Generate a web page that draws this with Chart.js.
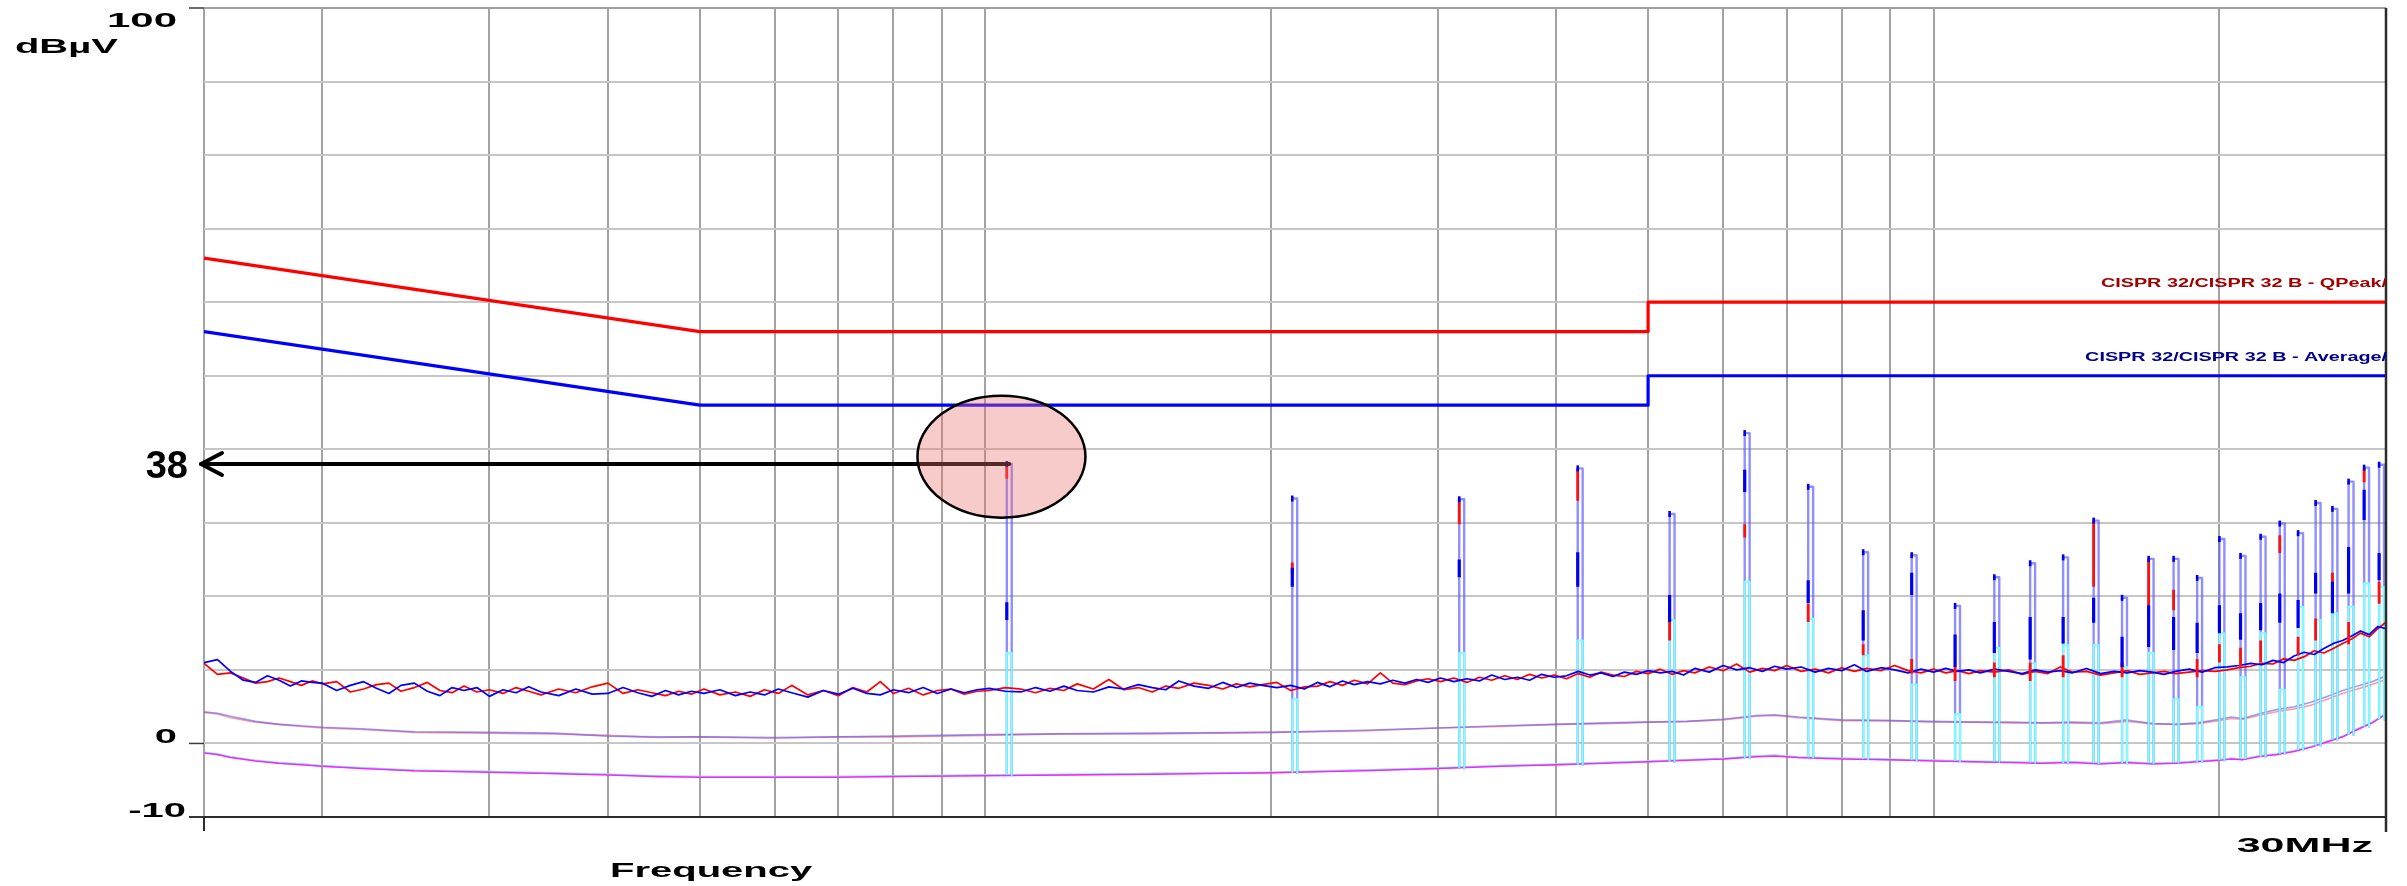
<!DOCTYPE html>
<html>
<head>
<meta charset="utf-8">
<title>Conducted emission scan</title>
<script src="https://cdn.jsdelivr.net/npm/chart.js@4.4.1/dist/chart.umd.min.js"></script>
<style>
  html, body { margin: 0; padding: 0; background: #ffffff; }
  canvas { display: block; }
</style>
</head>
<body>
<canvas id="scan" width="2407" height="886" style="width:2407px;height:886px"></canvas>
<script>
// ---- axis ticks -------------------------------------------------------
const yLabelValues = [100, 0, -10];
const xGridMHz = [0.15, 0.2, 0.3, 0.4, 0.5, 0.6, 0.7, 0.8, 0.9, 1, 2, 3, 4, 5, 6, 7, 8, 9, 10, 20];

// ---- CISPR 32 class B limits ------------------------------------------
const limitQpMHz = [0.15, 0.5, 5, 5, 30];
const limitQpDb  = [66, 56, 56, 60, 60];
const limitAvMHz = [0.15, 0.5, 5, 5, 30];
const limitAvDb  = [56, 46, 46, 50, 50];

// ---- peak detector sweeps (L1 red, N blue) -----------------------------
const noiseMHz = [
  0.150,0.155,0.160,0.165,0.170,0.175,0.180,0.185,0.190,0.195,
  0.200,0.207,0.214,0.221,0.228,0.235,0.242,0.250,0.258,0.266,0.274,0.282,0.291,
  0.300,0.310,0.320,0.330,0.340,0.355,0.370,0.385,0.400,0.415,0.430,0.445,0.460,0.475,0.490,
  0.505,0.525,0.545,0.565,0.585,0.605,0.625,0.650,0.675,0.700,0.725,0.750,0.775,0.800,0.830,0.860,0.890,0.920,0.950,0.980,
  1.01,1.05,1.09,1.13,1.17,1.21,1.25,1.30,1.35,1.40,1.45,1.50,1.55,1.60,1.66,1.72,1.78,1.84,1.90,1.96,
  2.03,2.10,2.17,2.24,2.31,2.38,2.45,2.53,2.61,2.69,2.77,2.85,2.93,
  3.02,3.12,3.22,3.32,3.42,3.53,3.64,3.75,3.86,3.98,4.10,4.22,4.34,4.46,4.59,4.72,4.86,
  5.00,5.15,5.30,5.45,5.60,5.80,6.00,6.20,6.40,6.60,6.80,7.00,7.25,7.50,7.75,8.00,8.25,8.50,8.80,9.10,9.40,9.70,
  10.0,10.3,10.6,10.9,11.2,11.6,12.0,12.4,12.8,13.2,13.6,14.0,14.5,15.0,15.5,16.0,16.5,17.0,17.5,18.0,18.6,19.2,19.8,
  20.4,21.0,21.6,22.2,22.8,23.4,24.0,24.6,25.2,25.8,26.4,27.0,27.6,28.2,28.8,29.4,30.0
];
const noiseBlueDb = [
  11.0,11.4,9.8,8.6,8.3,9.2,8.6,7.8,8.5,8.3,
  8.2,7.2,7.9,8.4,7.5,6.8,7.9,8.2,7.1,6.5,7.6,7.2,7.6,
  6.4,7.3,6.9,7.7,7.0,6.5,7.4,6.7,6.8,7.6,6.9,6.4,7.2,6.6,7.1,
  6.8,7.3,6.5,7.0,6.6,7.4,6.9,6.3,7.2,6.7,7.5,6.8,6.6,7.3,6.9,7.6,6.8,7.4,6.9,7.3,
  7.5,7.1,7.0,7.6,7.1,7.8,7.2,7.0,7.7,7.4,8.0,7.6,7.3,8.5,7.8,7.5,8.3,7.6,8.2,7.9,
  7.6,7.9,7.4,8.3,7.7,8.5,8.0,8.4,8.1,8.6,8.2,8.7,8.3,
  8.9,8.4,8.8,8.5,9.3,8.7,9.0,8.6,9.4,9.0,9.2,9.8,9.3,9.6,9.1,9.7,9.4,
  9.9,9.6,9.8,9.3,10.2,9.7,10.6,10.0,10.3,9.8,10.5,10.1,10.4,9.7,10.2,9.9,10.7,9.8,10.3,10.0,9.6,10.1,
  9.7,10.2,9.8,10.0,9.6,10.1,9.8,9.5,10.0,9.7,9.9,9.6,10.2,9.5,9.8,9.6,9.9,9.7,9.4,9.8,10.1,9.7,10.3,
  10.4,10.6,10.9,10.7,11.3,11.0,11.9,12.4,12.1,12.9,13.6,14.0,14.6,15.3,14.8,15.9,15.6
];
const noiseRedDb = [
  10.9,9.4,9.6,8.9,8.2,8.4,8.9,8.4,7.9,8.5,
  8.1,8.4,7.0,7.4,8.0,8.2,7.1,7.6,8.3,7.2,6.9,7.8,7.0,
  7.3,6.8,7.6,7.1,6.6,7.4,6.9,7.7,8.2,6.8,7.3,6.9,6.5,7.1,6.7,
  7.4,6.6,7.0,6.4,7.3,6.8,7.9,6.6,7.2,6.5,7.6,7.0,8.4,6.8,7.5,6.6,7.2,7.4,6.7,7.1,
  7.2,7.6,7.4,6.9,7.5,7.2,8.1,7.4,8.7,7.3,7.6,7.0,7.8,7.5,8.2,7.9,7.4,8.1,7.7,8.0,
  8.3,7.2,7.7,7.8,8.4,7.9,8.6,8.1,9.6,8.2,8.0,8.5,8.8,
  8.4,8.9,8.3,9.0,8.6,9.2,8.7,9.4,8.9,9.3,8.8,9.5,9.0,9.7,9.3,9.1,9.8,
  9.5,10.1,9.4,9.9,9.6,10.4,9.9,10.8,9.7,10.2,9.9,10.6,9.8,10.1,9.6,10.3,9.8,10.2,9.9,10.6,9.9,9.6,
  10.1,9.6,9.9,9.5,9.9,9.7,10.0,9.4,9.8,9.5,10.4,9.7,9.8,9.3,9.6,9.9,9.4,9.6,9.8,9.5,9.7,9.9,9.8,
  10.0,10.3,10.5,10.9,10.8,11.5,11.3,11.8,12.6,12.3,12.9,13.6,14.2,15.0,14.5,15.6,16.5
];

// ---- quasi-peak and average sweeps -------------------------------------
const smoothMHz = [
  0.15,0.155,0.16,0.17,0.18,0.19,0.2,0.22,0.25,0.3,
  0.35,0.4,0.45,0.5,0.6,0.7,0.8,1.0,1.2,1.5,
  2.0,2.5,3.0,3.5,4.0,4.5,5.0,5.5,6.0,6.5,
  6.8,7.2,8.0,9.0,10,11,12,13,14,15,
  16,17,18,19,20,20.6,21.2,22,23,24,
  25,26,27,28,29,30
];
const qpBlueDb = [
  4.3,4.1,3.7,3.0,2.6,2.4,2.2,2.0,1.6,1.5,
  1.4,1.0,0.9,0.9,0.8,0.9,1.0,1.2,1.3,1.4,
  1.5,1.8,2.1,2.4,2.6,2.8,2.9,3.0,3.3,3.8,
  3.9,3.6,3.2,3.1,3.0,2.9,2.9,2.8,2.9,2.8,
  3.2,2.7,2.6,2.8,3.3,3.6,3.4,4.0,4.6,5.0,
  5.6,6.4,7.2,7.8,8.4,9.2
];
const qpRedDb = [
  4.2,4.0,3.5,2.9,2.6,2.3,2.1,1.9,1.5,1.4,
  1.3,1.1,0.8,0.9,0.7,0.9,0.9,1.1,1.3,1.3,
  1.5,1.7,2.1,2.3,2.6,2.7,2.9,3.0,3.2,3.7,
  3.8,3.5,3.1,3.1,2.9,2.9,2.8,2.8,2.8,2.7,
  3.0,2.7,2.6,2.7,3.1,3.4,3.3,3.8,4.3,4.7,
  5.2,6.0,6.8,7.4,8.0,8.7
];
const avMagentaDb = [
  -1.3,-1.5,-1.9,-2.4,-2.7,-2.9,-3.1,-3.4,-3.7,-3.9,
  -4.1,-4.3,-4.5,-4.6,-4.6,-4.6,-4.5,-4.4,-4.3,-4.2,
  -4.0,-3.7,-3.4,-3.1,-2.9,-2.7,-2.5,-2.3,-2.1,-1.8,
  -1.7,-1.9,-2.1,-2.2,-2.4,-2.5,-2.6,-2.7,-2.6,-2.8,
  -2.6,-2.8,-2.7,-2.5,-2.3,-2.1,-2.2,-1.8,-1.5,-1.1,
  -0.5,0.2,0.9,1.9,2.8,4.0
];
const avCyanDb = [
  -1.2,-1.4,-1.8,-2.3,-2.6,-2.8,-3.0,-3.3,-3.6,-3.8,
  -4.0,-4.2,-4.4,-4.5,-4.5,-4.5,-4.4,-4.3,-4.2,-4.1,
  -3.9,-3.6,-3.3,-3.0,-2.8,-2.6,-2.4,-2.2,-2.0,-1.7,
  -1.6,-1.8,-2.0,-2.1,-2.3,-2.4,-2.5,-2.6,-2.5,-2.7,
  -2.5,-2.7,-2.6,-2.4,-2.2,-2.0,-2.1,-1.7,-1.4,-1.0,
  -0.4,0.3,1.0,2.0,2.9,4.1
];
const avOrangeDb = [
  -1.2,-1.5,-1.8,-2.3,-2.7,-2.8,-3.1,-3.3,-3.7,-3.8,
  -4.1,-4.2,-4.5,-4.5,-4.6,-4.5,-4.5,-4.3,-4.3,-4.1,
  -4.0,-3.6,-3.4,-3.0,-2.9,-2.6,-2.5,-2.2,-2.1,-1.7,
  -1.6,-1.9,-2.0,-2.2,-2.3,-2.5,-2.5,-2.7,-2.5,-2.7,
  -2.6,-2.7,-2.7,-2.4,-2.3,-2.0,-2.2,-1.7,-1.5,-1.0,
  -0.5,0.3,0.9,2.0,2.8,4.1
];

// ---- switching harmonics ----------------------------------------------
const harmonicMHz = [1.06,2.12,3.18,4.24,5.30,6.36,7.42,8.48,9.54,10.60,11.66,12.72,13.78,14.84,
                     15.90,16.96,18.02,19.08,20.14,21.20,22.26,23.32,24.38,25.44,26.50,27.56,28.62,29.68];
const spikeTopDb = [38.0,33.3,33.2,37.4,31.2,42.2,34.9,26.0,25.6,18.7,22.6,24.5,25.3,30.3,
                    19.8,25.1,25.1,22.5,27.8,25.5,28.1,29.9,28.6,32.7,31.9,35.6,37.5,37.9];
const spikeFloorDb = [-4.3,-4.0,-3.4,-2.9,-2.5,-2.0,-1.9,-2.1,-2.3,-2.4,-2.5,-2.6,-2.7,-2.7,
                      -2.7,-2.7,-2.6,-2.5,-2.3,-2.0,-1.8,-1.4,-0.9,-0.3,0.5,1.2,2.3,3.3];
const blueBlockLoDb = [16.8,21.3,22.6,21.3,16.5,34.2,19.1,14.0,20.2,10.4,12.3,11.4,13.6,16.4,
                       10.4,13.1,12.7,12.3,15.0,14.1,15.4,16.4,15.7,20.4,17.7,20.4,30.4,22.2];
const blueBlockHiDb = [19.2,23.9,25.0,26.0,20.2,37.2,22.2,18.1,23.2,14.8,16.5,17.2,17.2,19.8,
                       14.5,18.8,17.2,16.4,18.8,17.7,19.1,20.4,19.5,23.2,22.0,26.7,34.5,25.9];
const redLoDb = [36.0,23.0,29.8,33.0,14.0,28.0,16.5,12.0,9.5,8.5,9.0,8.5,9.0,21.3,
                 9.0,17.2,18.1,9.0,11.0,10.5,11.0,25.9,12.0,14.0,21.5,13.5,35.5,19.0];
const redHiDb = [38.0,24.6,33.2,37.4,16.8,29.8,19.0,13.5,11.5,10.5,11.0,11.0,12.0,30.3,
                 11.0,25.1,20.9,11.5,13.5,13.0,14.0,28.3,14.5,17.0,23.2,16.5,37.5,22.0];
const cyanTopDb = [12.3,6.0,12.3,14.0,16.8,22.0,17.0,12.0,8.0,4.0,13.0,10.9,13.4,13.4,
                   10.4,12.3,6.0,5.0,15.0,9.0,15.0,7.3,18.6,16.8,17.7,18.6,21.8,21.3];

// ---- marked peak -------------------------------------------------------
const markerMHz = 1.06;
const markerDb = 38;
const markerText = '38';
const ringCenterMHz = 1.04;
const ringCenterDb = 39;

// ---- texts -------------------------------------------------------------
const yUnitText = 'dBµV';
const xTitleText = 'Frequency';
const xEndText = '30MHz';
const qpLabelText = 'CISPR 32/CISPR 32 B - QPeak/';
const avLabelText = 'CISPR 32/CISPR 32 B - Average/';

// ---- dataset builders --------------------------------------------------
const SPIKE_SPREAD = 0.006;   // half width of a harmonic line, relative

const zip = (xs, ys) => xs.map((x, i) => ({ x, y: ys[i] }));

function spikePath(tops, floors) {
  const pts = [];
  harmonicMHz.forEach((f, i) => {
    const fl = f * (1 - SPIKE_SPREAD), fr = f * (1 + SPIKE_SPREAD);
    pts.push({ x: fl, y: floors[i] }, { x: fl, y: tops[i] },
             { x: fr, y: tops[i] }, { x: fr, y: floors[i] }, { x: fr, y: null });
  });
  return pts;
}
function spikeSegments(los, his) {
  const pts = [];
  harmonicMHz.forEach((f, i) => {
    const fl = f * (1 - SPIKE_SPREAD);
    pts.push({ x: fl, y: los[i] }, { x: fl, y: his[i] }, { x: fl, y: null });
  });
  return pts;
}

function trace(label, data, color, width, order) {
  return { label, data, borderColor: color, borderWidth: width, order,
           pointRadius: 0, fill: false, tension: 0, spanGaps: false,
           borderJoinStyle: 'round' };
}

const datasets = [
  trace('AV orange', zip(smoothMHz, avOrangeDb), '#ff9a5a', 1.5, 20),
  trace('AV cyan', zip(smoothMHz, avCyanDb), '#66ffff', 1.5, 19),
  trace('AV magenta', zip(smoothMHz, avMagentaDb), '#ff20ff', 1.5, 18),
  trace('QP red', zip(smoothMHz, qpRedDb), 'rgba(255,90,90,0.6)', 1.6, 17),
  trace('QP blue', zip(smoothMHz, qpBlueDb), 'rgba(90,90,255,0.6)', 1.6, 16),
  trace('Harmonics', spikePath(spikeTopDb, spikeFloorDb), 'rgba(100,100,255,0.72)', 2.4, 15),
  trace('Harmonics AV', spikePath(cyanTopDb, spikeFloorDb), '#7affff', 2.0, 14),
  trace('PK red', zip(noiseMHz, noiseRedDb), '#ff0000', 1.7, 13),
  trace('PK blue', zip(noiseMHz, noiseBlueDb), '#0000ff', 1.7, 12),
  trace('Harmonics PK red', spikeSegments(redLoDb, redHiDb), '#ff1010', 2.8, 11),
  trace('Harmonics PK blue', spikeSegments(blueBlockLoDb, blueBlockHiDb), '#0000f0', 3.2, 10),
  trace('Limit QP', zip(limitQpMHz, limitQpDb), '#ff0000', 3.2, 2),
  trace('Limit AV', zip(limitAvMHz, limitAvDb), '#0000ff', 3.2, 1)
];
datasets.push({
  label: 'Harmonic heads', data: zip(harmonicMHz.map(f => f * (1 - SPIKE_SPREAD)), spikeTopDb),
  showLine: false, pointStyle: 'line', rotation: 90, pointRadius: 3,
  pointBorderColor: '#0000e0', pointBorderWidth: 2.6, order: 9
});

// ---- text helpers -------------------------------------------------------
function wideText(ctx, text, x, y, align, sx, font, color) {
  ctx.save();
  ctx.font = font;
  ctx.fillStyle = color;
  ctx.textAlign = 'left';
  ctx.textBaseline = 'alphabetic';
  const w = ctx.measureText(text).width * sx;
  const left = align === 'right' ? x - w : align === 'center' ? x - w / 2 : x;
  ctx.translate(left, y);
  ctx.scale(sx, 1);
  ctx.fillText(text, 0, 0);
  ctx.restore();
}
function seg(ctx, x1, y1, x2, y2) {
  ctx.beginPath(); ctx.moveTo(x1, y1); ctx.lineTo(x2, y2); ctx.stroke();
}

const overlay = {
  id: 'overlay',
  afterDatasetsDraw(chart) {
    const { ctx, chartArea: a } = chart;
    const xs = chart.scales.x, ys = chart.scales.y;
    const AXIS_FONT = 'bold 20px "Liberation Sans", Arial, sans-serif';
    const BIG_FONT = 'bold 21px "Liberation Sans", Arial, sans-serif';
    ctx.save();

    // frame
    ctx.lineCap = 'butt';
    ctx.strokeStyle = '#a0a0a0'; ctx.lineWidth = 2;
    seg(ctx, a.left, a.top, a.right, a.top);
    ctx.strokeStyle = '#2b2b2b'; ctx.lineWidth = 2;
    seg(ctx, a.left - 15, a.bottom, a.right, a.bottom);
    seg(ctx, a.left, a.bottom, a.left, a.bottom + 14);
    ctx.lineWidth = 2.5;
    seg(ctx, a.right, a.top, a.right, a.bottom + 15);

    // y tick marks and labels
    ctx.lineWidth = 1.5; ctx.strokeStyle = '#3a3a3a';
    yLabelValues.forEach(v => {
      const py = ys.getPixelForValue(v);
      seg(ctx, a.left - 15, py, a.left, py);
      const base = Math.max(py, a.top + 19);
      const right = v < 0 ? a.left - 18 : a.left - 27;
      wideText(ctx, String(v), right, base, 'right', 2.0, v === 100 ? BIG_FONT : AXIS_FONT, '#000');
    });
    wideText(ctx, yUnitText, 15, 53, 'left', 1.9, BIG_FONT, '#000');

    // x texts
    wideText(ctx, xTitleText, 610, a.bottom + 60, 'left', 2.0, AXIS_FONT, '#000');
    wideText(ctx, xEndText, a.right - 13, a.bottom + 35, 'right', 2.05, BIG_FONT, '#000');

    // limit line labels, cut at the plot edge
    ctx.save();
    ctx.beginPath(); ctx.rect(a.left, a.top, a.right - a.left, a.bottom - a.top); ctx.clip();
    const LIM_FONT = 'bold 12px "Liberation Sans", Arial, sans-serif';
    wideText(ctx, qpLabelText, a.right + 1, ys.getPixelForValue(limitQpDb[limitQpDb.length - 1]) - 15,
             'right', 1.65, LIM_FONT, '#a00000');
    wideText(ctx, avLabelText, a.right + 1, ys.getPixelForValue(limitAvDb[limitAvDb.length - 1]) - 15,
             'right', 1.65, LIM_FONT, '#00008c');
    ctx.restore();

    // marker arrow to the y axis
    const mx = xs.getPixelForValue(markerMHz), my = ys.getPixelForValue(markerDb);
    ctx.strokeStyle = '#000'; ctx.lineWidth = 4; ctx.lineCap = 'round'; ctx.lineJoin = 'round';
    seg(ctx, mx, my, a.left - 3, my);
    ctx.beginPath();
    ctx.moveTo(a.left + 18, my - 11); ctx.lineTo(a.left - 3, my); ctx.lineTo(a.left + 18, my + 11);
    ctx.stroke();

    // highlight ring
    const cx = xs.getPixelForValue(ringCenterMHz), cy = ys.getPixelForValue(ringCenterDb);
    ctx.beginPath();
    ctx.ellipse(cx, cy, 84, 61, 0, 0, Math.PI * 2);
    ctx.fillStyle = 'rgba(236,110,110,0.36)';
    ctx.fill();
    ctx.lineWidth = 2.5; ctx.strokeStyle = '#000';
    ctx.stroke();

    // marker value
    ctx.font = 'bold 38px "Liberation Sans", Arial, sans-serif';
    ctx.fillStyle = '#000'; ctx.textAlign = 'right'; ctx.textBaseline = 'alphabetic';
    ctx.fillText(markerText, a.left - 16, my + 14);

    ctx.restore();
  }
};

new Chart(document.getElementById('scan').getContext('2d'), {
  type: 'line',
  data: { datasets },
  options: {
    responsive: false,
    animation: false,
    devicePixelRatio: 1,
    layout: { padding: { left: 204, right: 21, top: 8, bottom: 69 } },
    plugins: { legend: { display: false }, tooltip: { enabled: false } },
    elements: { point: { radius: 0 }, line: { tension: 0 } },
    scales: {
      x: {
        type: 'logarithmic', min: 0.15, max: 30,
        afterBuildTicks: s => { s.ticks = xGridMHz.map(v => ({ value: v })); },
        afterFit: s => { s.height = 0; },
        ticks: { display: false },
        grid: { color: '#a3a3a3', lineWidth: 2, drawTicks: false },
        border: { display: false }
      },
      y: {
        type: 'linear', min: -10, max: 100,
        afterFit: s => { s.width = 0; },
        ticks: { display: false, stepSize: 10 },
        grid: { color: '#c6c6c6', lineWidth: 2, drawTicks: false },
        border: { display: false }
      }
    }
  },
  plugins: [overlay]
});
</script>
</body>
</html>
